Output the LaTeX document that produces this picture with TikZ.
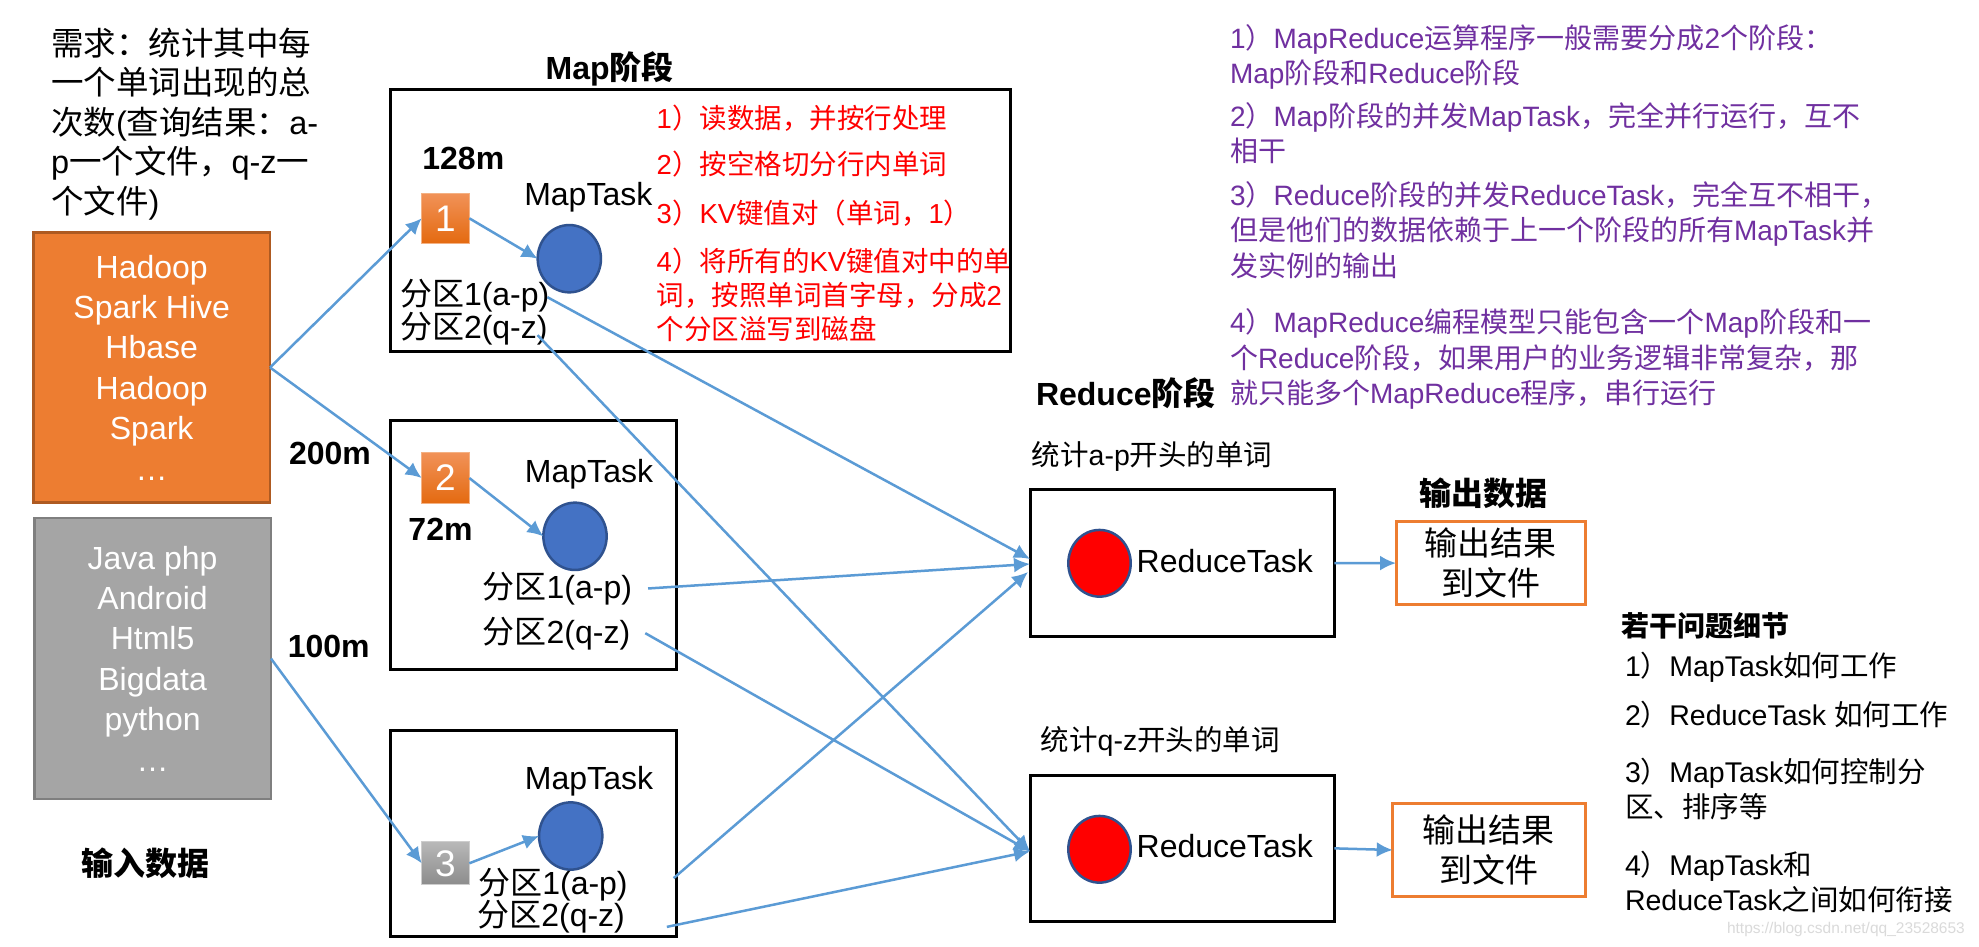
\documentclass[tikz,border=0pt]{standalone}
\usepackage{fontspec}
\setmainfont{Liberation Sans}
\newfontfamily\cjkfont{Noto Sans CJK SC}
\usetikzlibrary{arrows.meta,shapes.geometric}
\XeTeXinterchartokenstate=1
\newXeTeXintercharclass\cjkclass
\makeatletter
\def\setcjkrange#1#2{\count@=#1\relax\loop\ifnum\count@<#2\relax\XeTeXcharclass\count@=\cjkclass\advance\count@ by 1\relax\repeat}
\setcjkrange{"3000}{"3040}
\setcjkrange{"4E00}{"A000}
\setcjkrange{"FF00}{"FFF0}
\makeatother
\XeTeXinterchartoks 0 \cjkclass={\begingroup\cjkfont}
\XeTeXinterchartoks 4095 \cjkclass={\begingroup\cjkfont}
\XeTeXinterchartoks \cjkclass 0={\endgroup}
\XeTeXinterchartoks \cjkclass 4095={\endgroup}
\newcommand\setfs[2]{\fontsize{#1}{#2}\selectfont}
\definecolor{arrowblue}{RGB}{91,155,213}
\definecolor{taskblue}{RGB}{68,114,196}
\definecolor{rimblue}{RGB}{47,82,143}
\definecolor{inorange}{RGB}{237,125,49}
\definecolor{inorangedark}{RGB}{174,90,33}
\definecolor{ingray}{RGB}{165,165,165}
\definecolor{ingraydark}{RGB}{127,127,127}
\definecolor{notepurple}{RGB}{112,48,160}
\definecolor{wmgray}{RGB}{218,218,218}
\definecolor{sqtop}{RGB}{241,146,88}
\definecolor{sqbot}{RGB}{228,106,16}
\definecolor{sqrim}{RGB}{244,177,131}
\definecolor{gsqtop}{RGB}{184,184,184}
\definecolor{gsqbot}{RGB}{140,140,140}
\definecolor{gsqrim}{RGB}{205,205,205}
\begin{document}
\begin{tikzpicture}[x=1pt,y=-1pt,
  lbl/.style={inner sep=0pt,outer sep=0pt},
  arr/.style={draw=arrowblue,line width=2.5pt,-{Latex[length=16pt,width=15pt]}},
  stagebox/.style={draw=black,line width=3pt,inner sep=0pt,outer sep=0pt},
  outbox/.style={draw=inorange,line width=3pt,inner sep=0pt,outer sep=0pt,align=center,font=\setfs{33}{40}},
  listbox/.style={line width=2.5pt,inner sep=0pt,outer sep=0pt,align=center,text=white,font=\setfs{32}{40.4},minimum width=236.7pt},
  task/.style={ellipse,fill=taskblue,draw=rimblue,line width=2.5pt,inner sep=0pt,outer sep=0pt,minimum width=63.3pt,minimum height=67.3pt},
  rtask/.style={task,fill=red,minimum width=62.4pt,minimum height=66.7pt},
  blocksq/.style={rectangle,inner sep=0pt,outer sep=0pt,minimum width=47.6pt,text=white,font=\setfs{37}{40},line width=1pt},
  orsq/.style={blocksq,top color=sqtop,bottom color=sqbot,draw=sqrim},
  grsq/.style={blocksq,top color=gsqtop,bottom color=gsqbot,draw=gsqrim},
  body/.style={lbl,font=\setfs{32}{40}},
  boldlbl/.style={lbl,font=\setfs{32}{40}\bfseries},
  rednote/.style={lbl,text=red,font=\setfs{27.5}{34}},
  note/.style={lbl,text=notepurple,font=\setfs{28}{35.5},align=left,anchor=north west},
  question/.style={lbl,font=\setfs{28.5}{35},align=left},
  groupnote/.style={lbl,font=\setfs{28.5}{34}}
]
\fill[white] (0,0) rectangle (1979,947);
\useasboundingbox (0,0) rectangle (1979,947);

% requirement
\node[lbl,anchor=north west,align=left,font=\setfs{32.5}{39.5}] (req) at (51,28) {需求：统计其中每\\一个单词出现的总\\次数(查询结果：a-\\p一个文件，q-z一\\个文件)};

% input data
\node[listbox,fill=inorange,draw=inorangedark,minimum height=270pt] (ob) at (151.7,367.5) {Hadoop\\Spark Hive\\Hbase\\Hadoop\\Spark\\…};
\node[listbox,fill=ingray,draw=ingraydark,minimum height=281pt] (gb) at (152.6,658.5) {Java php\\Android\\Html5\\Bigdata\\python\\…};
\node[boldlbl,anchor=base] (inlabel) at (145,875) {输入数据};

% map stage
\node[boldlbl,anchor=base] (maplabel) at (609.6,80) {Map阶段};
\node[stagebox,minimum width=620pt,minimum height=261.7pt] (m1) at (700,220.85) {};
\node[stagebox,minimum width=286pt,minimum height=248.6pt] (m2) at (533,545) {};
\node[stagebox,minimum width=286pt,minimum height=206pt] (m3) at (533,833) {};

\node[boldlbl,anchor=base] (size1) at (463.3,170) {128m};
\node[boldlbl,anchor=base] (size2) at (330,464.3) {200m};
\node[boldlbl,anchor=base] (size2b) at (440.5,540) {72m};
\node[boldlbl,anchor=base] (size3) at (328.7,657) {100m};

\node[orsq,minimum height=50pt] (s1) at (445.5,218.3) {1};
\node[orsq,minimum height=50.6pt] (s2) at (445.5,478) {2};
\node[grsq,minimum height=43.3pt] (s3) at (445.5,863.3) {3};

\node[body,anchor=base] (mt1) at (588.3,205) {MapTask};
\node[body,anchor=base] (mt2) at (589,482.7) {MapTask};
\node[body,anchor=base] (mt3) at (589,789.3) {MapTask};

\node[task] (c1) at (569.3,258.7) {};
\node[task] (c2) at (575,536.3) {};
\node[task] (c3) at (570.7,836) {};

\node[body,anchor=base west] (p11) at (400,305) {分区1(a-p)};
\node[body,anchor=base west] (p12) at (400,338) {分区2(q-z)};
\node[body,anchor=base west] (p21) at (482.7,598.3) {分区1(a-p)};
\node[body,anchor=base west] (p22) at (482.7,643) {分区2(q-z)};
\node[body,anchor=base west] (p31) at (478.3,894) {分区1(a-p)};
\node[body,anchor=base west] (p32) at (477.3,926.7) {分区2(q-z)};

\node[rednote,anchor=base west] (st1) at (656.7,128.5) {1）读数据，并按行处理};
\node[rednote,anchor=base west] (st2) at (656.7,175) {2）按空格切分行内单词};
\node[rednote,anchor=base west] (st3) at (656.7,223.3) {3）KV键值对（单词，1）};
\node[rednote,anchor=north west,align=left] (st4) at (656.7,248.3) {4）将所有的KV键值对中的单\\词，按照单词首字母，分成2\\个分区溢写到磁盘};

% reduce stage
\node[boldlbl,anchor=base west] (redlabel) at (1036,405) {Reduce阶段};
\node[groupnote,anchor=base west] (rl1) at (1031.7,465) {统计a-p开头的单词};
\node[groupnote,anchor=base west] (rl2) at (1040.7,750) {统计q-z开头的单词};
\node[stagebox,minimum width=304.3pt,minimum height=147.4pt] (r1) at (1182.15,563) {};
\node[stagebox,minimum width=304.3pt,minimum height=146.7pt] (r2) at (1182.15,848.35) {};
\node[rtask] (rc1) at (1099.5,563.3) {};
\node[rtask] (rc2) at (1099.5,849.3) {};
\node[body,anchor=base west] (rt1) at (1136.7,572.7) {ReduceTask};
\node[body,anchor=base west] (rt2) at (1136.7,857.7) {ReduceTask};

% output
\node[boldlbl,anchor=base west] (outlabel) at (1419,505) {输出数据};
\node[outbox,minimum width=189pt,minimum height=82.8pt] (o1) at (1490.5,563.1) {输出结果\\到文件};
\node[outbox,minimum width=192.3pt,minimum height=93.4pt] (o2) at (1488.85,850) {输出结果\\到文件};

% notes
\node[note] (n1) at (1230,24.5) {1）MapReduce运算程序一般需要分成2个阶段：\\Map阶段和Reduce阶段};
\node[note] (n2) at (1230,102.5) {2）Map阶段的并发MapTask，完全并行运行，互不\\相干};
\node[note] (n3) at (1230,181.5) {3）Reduce阶段的并发ReduceTask，完全互不相干，\\但是他们的数据依赖于上一个阶段的所有MapTask并\\发实例的输出};
\node[note] (n4) at (1230,309) {4）MapReduce编程模型只能包含一个Map阶段和一\\个Reduce阶段，如果用户的业务逻辑非常复杂，那\\就只能多个MapReduce程序，串行运行};

% questions
\node[lbl,anchor=base west,font=\setfs{28}{34}\bfseries] (qh) at (1621.7,636) {若干问题细节};
\node[question,anchor=base west] (q1) at (1625,676.7) {1）MapTask如何工作};
\node[question,anchor=base west] (q2) at (1625,725) {2）ReduceTask 如何工作};
\node[question,anchor=north west] (q3) at (1625,758) {3）MapTask如何控制分\\区、排序等};
\node[question,anchor=north west] (q4) at (1625,851) {4）MapTask和\\ReduceTask之间如何衔接};

\node[lbl,anchor=base west,text=wmgray,font=\setfs{15.5}{18}] (wm) at (1727,933) {https://blog.csdn.net/qq\_23528653};

% connectors
\draw[arr] (ob.east) -- (s1.west);
\draw[arr] (ob.east) -- (s2.west);
\draw[arr] (gb.east) -- (s3.west);
\draw[arr] (s1.east) -- (c1.west);
\draw[arr] (s2.east) -- (c2.west);
\draw[arr] (s3.east) -- (c3.west);
\draw[arr] ([xshift=-2pt,yshift=-2pt]p11.east) -- ([yshift=4pt]r1.west);
\draw[arr] ([xshift=16pt]p21.east) -- ([yshift=-1pt]r1.west);
\draw[arr] ([xshift=46pt,yshift=6pt]p31.east) -- ([xshift=-2pt,yshift=-9pt]r1.west);
\draw[arr] ([xshift=-10pt,yshift=-7pt]p12.east) -- ([yshift=-3pt]r2.west);
\draw[arr] ([xshift=15pt]p22.east) -- ([yshift=-3pt]r2.west);
\draw[arr] ([xshift=42pt,yshift=-10pt]p32.east) -- ([yshift=-3pt]r2.west);
\draw[arr] (r1.east) -- (o1.west);
\draw[arr] (r2.east) -- (o2.west);
\end{tikzpicture}
\end{document}
